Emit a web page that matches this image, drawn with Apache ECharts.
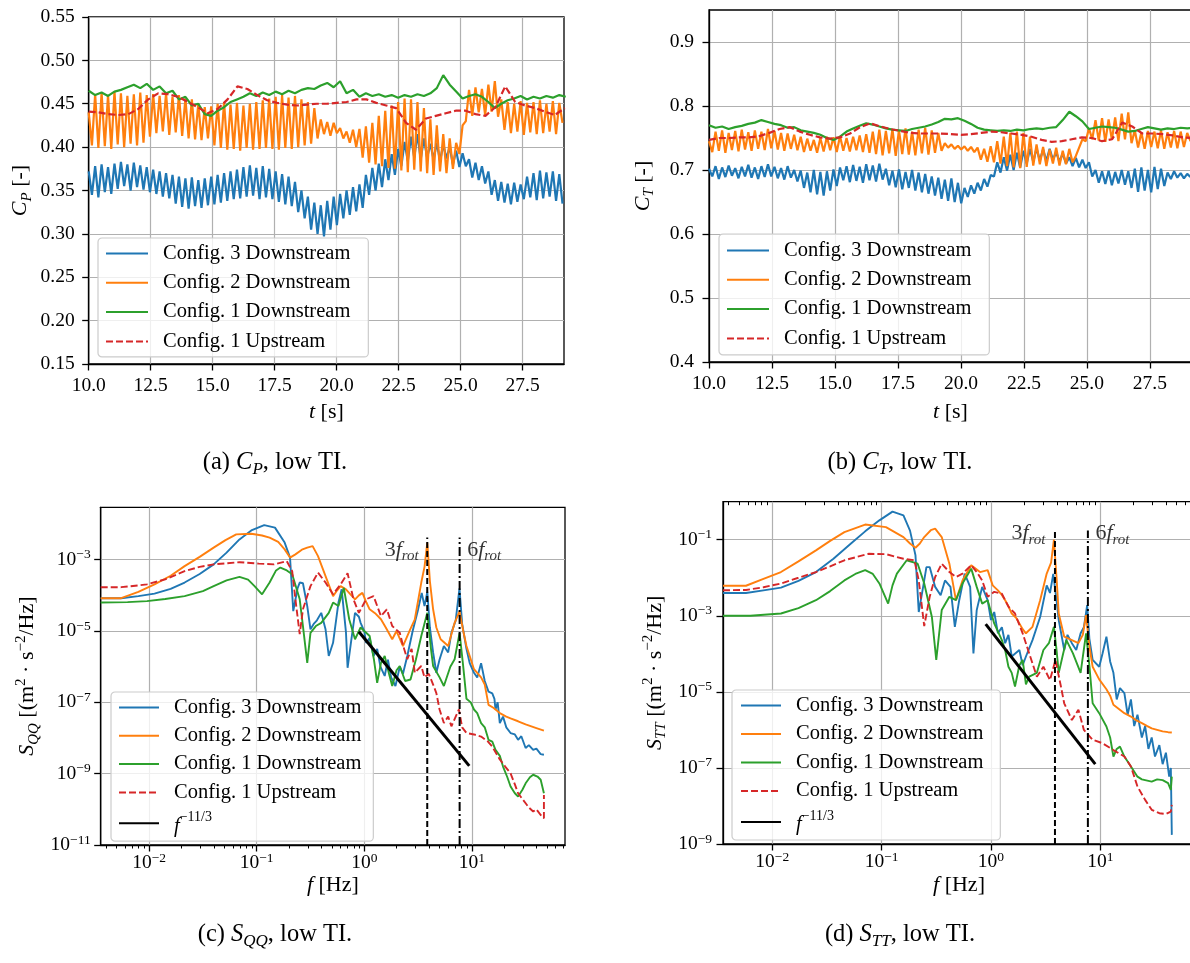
<!DOCTYPE html>
<html><head><meta charset="utf-8">
<script src="https://cdn.jsdelivr.net/npm/echarts@6/dist/echarts.min.js"></script>
<style>html,body{margin:0;padding:0;background:#fff}#chart{width:1190px;height:963px}</style>
</head><body><div id="chart"></div>
<script>
// ---------------- DATA ----------------
// time grids (s)
const T0 = 10.0, DT_FAST = 0.13, DT_MID = 0.26, DT_SLOW = 0.4, T_MAX = 29.17;
const timeTickValues = [10, 12.5, 15, 17.5, 20, 22.5, 25, 27.5];
const cpTickValues = [0.15, 0.20, 0.25, 0.30, 0.35, 0.40, 0.45, 0.50, 0.55];
const ctTickValues = [0.4, 0.5, 0.6, 0.7, 0.8, 0.9];
const seriesNames = ['Config. 3 Downstream', 'Config. 2 Downstream', 'Config. 1 Downstream', 'Config. 1 Upstream'];

// (a) C_P
const cpConfig3 = [0.372,0.345,0.378,0.342,0.380,0.348,0.377,0.346,
0.381,0.352,0.383,0.355,0.380,0.350,0.382,0.354,0.379,0.351,0.377,
0.348,0.374,0.346,0.372,0.343,0.370,0.341,0.368,
0.335,0.366,0.331,0.364,0.329,0.365,0.332,0.362,0.330,0.364,0.333,
0.366,0.334,0.368,0.336,0.370,0.338,0.372,0.340,
0.374,0.341,0.377,0.343,0.379,0.344,0.376,0.340,0.378,0.342,0.375,0.340,
0.372,0.337,0.369,0.334,0.366,0.332,0.360,
0.325,0.350,0.318,0.343,
0.305,0.336,0.300,0.333,0.297,
0.338,0.305,0.343,0.310,0.346,
0.318,0.350,0.322,0.354,0.326,0.357,0.330,
0.368,0.345,0.376,0.350,0.381,0.354,
0.386,0.362,0.392,0.368,0.398,
0.378,0.406,0.384,0.412,0.388,0.415,0.386,0.410,
0.388,0.404,0.386,0.405,0.384,0.403,0.387,0.400,
0.380,0.396,0.377,0.393,0.378,
0.386,0.365,0.382,0.362,0.378,0.358,0.372,
0.345,0.362,0.338,0.360,0.336,0.358,0.334,0.359,0.337,0.357,
0.340,0.366,0.342,0.370,0.339,0.373,0.341,0.371,0.343,0.372,0.338,0.369,0.335];
const cpConfig2 = [0.440,0.402,0.461,0.399,0.463,0.401,0.460,0.398,0.464,0.403,0.462,0.400,0.459,0.404,0.461,0.402,0.463,0.405,0.460,
0.412,0.461,0.416,0.459,0.418,0.462,0.414,0.458,0.417,0.460,0.413,0.456,0.410,0.455,0.409,0.450,0.408,0.446,0.410,
0.447,0.402,0.450,0.399,0.452,0.397,0.449,0.398,0.451,0.396,0.448,0.399,0.450,0.397,0.452,0.398,0.454,0.399,0.456,0.398,
0.458,0.397,0.460,0.399,0.457,0.398,0.459,0.400,0.455,0.402,0.452,0.404,0.445,0.410,
0.432,0.415,0.429,0.413,0.428,0.416,
0.422,0.410,0.418,0.405,0.420,0.400,
0.421,0.388,0.424,0.382,0.428,
0.380,0.436,0.378,0.442,0.376,0.448,0.375,0.452,
0.373,0.456,0.371,0.455,0.374,0.452,0.372,0.445,0.370,
0.432,0.368,0.425,0.372,0.415,0.370,0.410,
0.375,0.405,0.392,0.425,0.430,
0.466,0.436,0.469,0.440,0.467,0.437,0.472,0.441,0.476,0.435,
0.455,0.420,0.452,0.416,0.450,0.418,0.453,0.414,0.451,0.417,0.452,0.415,0.454,0.416,0.450,0.418,0.453,0.415,0.451,0.428];
const cpConfig1 = [0.465,0.460,0.463,0.459,0.464,0.466,0.469,0.472,0.468,0.473,
0.466,0.470,0.462,0.465,0.455,0.458,0.448,0.450,0.438,0.436,
0.442,0.446,0.452,0.455,0.458,0.462,0.459,0.463,0.460,0.464,
0.461,0.465,0.462,0.466,0.468,0.467,0.471,0.474,0.469,0.476,
0.462,0.466,0.458,0.462,0.459,0.461,0.458,0.460,0.457,0.460,
0.458,0.461,0.459,0.462,0.468,0.483,0.472,0.464,0.456,0.459,
0.461,0.458,0.452,0.445,0.450,0.454,0.456,0.459,0.455,0.458,
0.456,0.459,0.457,0.460,0.458];
const cpUpstream = [0.441,0.440,0.438,0.437,0.438,0.444,0.455,0.462,0.461,0.458,
0.452,0.446,0.439,0.444,0.455,0.470,0.467,0.460,0.454,0.451,
0.449,0.448,0.449,0.450,0.450,0.451,0.452,0.455,0.455,0.451,
0.448,0.445,0.428,0.420,0.433,0.436,0.439,0.442,0.442,0.438,
0.436,0.446,0.470,0.452,0.448,0.445,0.441,0.437,0.445];

// (b) C_T
const ctConfig3 = [0.702,0.690,0.706,0.686,0.704,0.689,0.707,0.691,0.703,0.687,0.705,0.690,0.708,0.688,0.704,0.686,0.706,0.689,0.709,0.690,0.705,0.687,0.703,0.685,0.706,0.688,0.700,0.682,
0.699,0.672,0.696,0.665,0.700,0.662,0.697,0.660,0.698,0.668,0.701,0.675,
0.704,0.684,0.706,0.681,0.708,0.683,0.705,0.680,0.709,0.684,0.707,0.682,0.710,0.685,
0.702,0.676,0.699,0.673,0.701,0.670,0.697,0.672,0.700,0.668,0.696,0.665,0.694,0.663,
0.690,0.660,0.688,0.655,0.685,0.652,0.687,0.650,0.680,0.648,
0.672,0.658,0.676,0.663,0.680,0.668,0.686,0.674,0.692,
0.690,0.712,0.696,0.720,0.699,0.724,0.700,0.727,
0.704,0.730,0.710,0.733,0.713,0.734,0.715,0.732,0.714,0.733,0.716,0.728,0.713,0.726,
0.710,0.720,0.706,0.719,0.704,0.716,0.703,
0.712,0.690,0.700,0.680,0.698,0.678,0.699,0.676,0.697,0.679,0.700,0.677,0.698,
0.672,0.702,0.666,0.704,0.668,0.700,0.665,0.705,0.670,0.702,0.675,
0.696,0.686,0.698,0.688,0.695,0.687,0.694,0.689];
const ctConfig2 = [0.745,0.728,0.760,0.730,0.762,0.727,0.758,0.731,0.761,0.729,0.763,0.732,0.759,0.730,0.762,0.733,0.760,0.731,0.764,0.734,0.761,0.732,0.758,0.730,0.757,0.733,0.755,0.731,
0.752,0.728,0.749,0.730,0.747,0.727,0.750,0.729,0.752,0.731,0.751,0.728,0.753,0.730,0.750,0.729,0.752,0.731,0.754,0.728,0.756,0.727,
0.760,0.725,0.763,0.723,0.761,0.726,0.764,0.722,0.762,0.725,0.765,0.724,0.760,0.723,0.763,0.726,0.766,0.724,0.762,0.727,0.758,0.730,
0.742,0.735,0.740,0.733,0.738,0.732,0.737,0.730,0.736,0.728,
0.735,0.716,0.733,0.713,0.737,0.712,0.745,
0.710,0.752,0.706,0.758,0.704,0.760,0.703,0.758,0.705,0.752,
0.707,0.740,0.709,0.736,0.706,0.732,0.710,0.735,0.707,0.730,0.709,0.733,0.712,
0.722,0.735,0.748,0.745,0.765,
0.748,0.778,0.746,0.781,0.744,0.779,0.747,0.782,0.745,0.788,0.748,0.790,
0.742,0.762,0.735,0.759,0.733,0.761,0.736,0.760,0.734,0.762,0.733,0.759,0.735,0.761,0.734,0.760,0.736,0.758,0.745];
const ctConfig1 = [0.770,0.766,0.768,0.764,0.767,0.769,0.772,0.774,0.778,0.775,
0.772,0.770,0.766,0.767,0.762,0.760,0.758,0.755,0.750,0.747,
0.752,0.760,0.765,0.769,0.773,0.771,0.768,0.765,0.763,0.762,
0.761,0.764,0.766,0.768,0.771,0.775,0.780,0.779,0.781,0.777,
0.772,0.766,0.763,0.762,0.761,0.762,0.761,0.763,0.762,0.764,
0.765,0.764,0.766,0.767,0.778,0.791,0.784,0.776,0.764,0.766,
0.768,0.767,0.766,0.763,0.760,0.761,0.764,0.767,0.765,0.763,
0.765,0.764,0.766,0.765,0.766];
const ctUpstream = [0.747,0.750,0.750,0.751,0.751,0.753,0.758,0.764,0.767,0.760,
0.755,0.751,0.749,0.751,0.757,0.767,0.773,0.768,0.764,0.761,
0.758,0.757,0.757,0.757,0.756,0.755,0.756,0.758,0.760,0.759,
0.757,0.755,0.752,0.747,0.744,0.745,0.748,0.751,0.750,0.745,
0.748,0.774,0.768,0.757,0.757,0.756,0.754,0.751,0.750];

// spectra: pairs [log10 f (Hz), log10 S]
const F_LOG_MIN = -2.45, F_LOG_MAX = 1.866;
const freqMajorLog = [-2, -1, 0, 1];
const SQQ_LOG_MIN = -11, SQQ_LOG_MAX = -1.53, sqqTickLog = [-11, -9, -7, -5, -3];
const STT_LOG_MIN = -9, STT_LOG_MAX = 0, sttTickLog = [-9, -7, -5, -3, -1];
const F_ROT3 = 3.85, F_ROT6 = 7.7; // Hz
const rotTopC = -2.38, rotLabelC = -2.72, rotTopD = -0.76, rotLabelD = -0.84;

const sqqC3 = [[-2.45,-4.08],[-2.26,-4.08],[-2.1,-4.02],[-1.95,-3.95],[-1.8,-3.82],[-1.67,-3.64],[-1.53,-3.4],[-1.40,-3.13],[-1.28,-2.8],[-1.16,-2.43],[-1.05,-2.18],[-0.93,-2.03],[-0.83,-2.10],[-0.74,-2.52],[-0.69,-2.94],[-0.66,-4.44],[-0.62,-3.8],[-0.60,-3.64],[-0.57,-3.66],[-0.53,-4.3],[-0.50,-4.95],[-0.47,-4.8],[-0.44,-4.7],[-0.40,-4.49],[-0.36,-4.95],[-0.33,-5.7],[-0.29,-5.33],[-0.24,-4.2],[-0.21,-3.83],[-0.17,-5.04],[-0.155,-6.03],[-0.12,-5.24],[-0.086,-4.49],[-0.05,-4.6],[-0.034,-4.77],[0.0,-5.0],[0.017,-5.33],[0.05,-5.2],[0.086,-5.7],[0.12,-5.5],[0.15,-6.0],[0.19,-6.26],[0.22,-5.8],[0.25,-6.3],[0.29,-6.54],[0.33,-6.0],[0.36,-6.2],[0.40,-5.7],[0.45,-5.0],[0.50,-4.4],[0.534,-3.93],[0.56,-4.3],[0.586,-3.9],[0.61,-4.9],[0.64,-5.6],[0.67,-6.17],[0.70,-5.8],[0.74,-5.42],[0.78,-5.6],[0.81,-5.05],[0.85,-4.7],[0.885,-3.8],[0.91,-4.8],[0.95,-5.5],[0.98,-5.9],[1.02,-6.17],[1.05,-6.3],[1.086,-5.9],[1.12,-6.4],[1.155,-6.7],[1.19,-6.75],[1.21,-6.9],[1.22,-7.2],[1.24,-7.0],[1.26,-7.58],[1.29,-7.4],[1.32,-7.7],[1.36,-7.86],[1.40,-7.9],[1.43,-8.05],[1.46,-7.95],[1.50,-8.28],[1.53,-8.2],[1.57,-8.33],[1.60,-8.3],[1.64,-8.45],[1.67,-8.47]];
const sqqC2 = [[-2.45,-4.08],[-2.26,-4.08],[-2.1,-3.9],[-1.95,-3.69],[-1.8,-3.45],[-1.67,-3.18],[-1.53,-2.92],[-1.40,-2.66],[-1.29,-2.45],[-1.19,-2.29],[-1.05,-2.27],[-0.95,-2.32],[-0.88,-2.38],[-0.80,-2.5],[-0.74,-2.71],[-0.69,-2.94],[-0.64,-2.85],[-0.58,-2.72],[-0.53,-2.66],[-0.48,-2.62],[-0.43,-2.9],[-0.36,-3.46],[-0.29,-4.02],[-0.25,-3.85],[-0.22,-3.74],[-0.17,-3.83],[-0.12,-4.0],[-0.086,-4.11],[-0.05,-4.0],[-0.017,-3.93],[0.02,-4.2],[0.05,-4.39],[0.1,-4.5],[0.155,-4.67],[0.2,-4.9],[0.26,-5.23],[0.3,-5.0],[0.36,-5.42],[0.42,-5.0],[0.47,-4.67],[0.53,-3.64],[0.56,-3.2],[0.586,-2.52],[0.61,-3.6],[0.64,-4.39],[0.67,-4.9],[0.71,-5.23],[0.78,-5.42],[0.84,-4.77],[0.886,-4.45],[0.92,-5.0],[0.95,-5.42],[1.02,-6.07],[1.086,-6.3],[1.12,-6.5],[1.155,-7.07],[1.2,-7.15],[1.26,-7.3],[1.32,-7.4],[1.36,-7.45],[1.43,-7.53],[1.5,-7.62],[1.6,-7.72],[1.67,-7.79]];
const sqqC1 = [[-2.45,-4.2],[-2.2,-4.19],[-2.02,-4.16],[-1.85,-4.1],[-1.67,-4.02],[-1.5,-3.88],[-1.40,-3.74],[-1.28,-3.58],[-1.16,-3.48],[-1.08,-3.56],[-1.02,-3.74],[-0.95,-3.97],[-0.88,-3.64],[-0.82,-3.3],[-0.78,-3.22],[-0.72,-3.3],[-0.67,-3.41],[-0.6,-4.11],[-0.57,-4.86],[-0.53,-5.89],[-0.5,-5.05],[-0.45,-4.86],[-0.4,-4.77],[-0.33,-4.49],[-0.29,-4.2],[-0.24,-4.3],[-0.19,-3.79],[-0.14,-4.67],[-0.086,-5.23],[-0.034,-4.9],[0.0,-5.0],[0.05,-5.14],[0.09,-5.8],[0.12,-6.45],[0.155,-5.9],[0.19,-5.7],[0.23,-6.2],[0.26,-6.54],[0.3,-6.1],[0.33,-5.98],[0.38,-6.4],[0.43,-6.36],[0.48,-5.8],[0.53,-5.14],[0.586,-4.49],[0.62,-5.5],[0.64,-5.98],[0.7,-6.3],[0.74,-6.54],[0.8,-6.0],[0.84,-5.79],[0.886,-5.05],[0.92,-6.0],[0.95,-6.9],[0.99,-7.0],[1.02,-7.2],[1.05,-7.3],[1.086,-7.58],[1.12,-7.7],[1.155,-8.05],[1.19,-8.1],[1.22,-8.33],[1.26,-8.5],[1.29,-8.8],[1.33,-9.1],[1.36,-9.36],[1.40,-9.55],[1.43,-9.64],[1.47,-9.45],[1.50,-9.27],[1.54,-9.1],[1.57,-9.03],[1.61,-9.08],[1.64,-9.17],[1.67,-9.55]];
const sqqUp = [[-2.45,-3.77],[-2.26,-3.77],[-2.1,-3.72],[-2.02,-3.69],[-1.85,-3.55],[-1.67,-3.32],[-1.53,-3.2],[-1.40,-3.13],[-1.16,-3.07],[-0.98,-3.11],[-0.84,-3.13],[-0.72,-3.04],[-0.67,-3.32],[-0.64,-4.11],[-0.60,-5.09],[-0.57,-4.39],[-0.50,-3.74],[-0.43,-3.36],[-0.36,-3.64],[-0.29,-3.97],[-0.22,-3.69],[-0.155,-3.38],[-0.10,-4.11],[-0.05,-4.49],[0.017,-4.11],[0.086,-4.02],[0.155,-4.58],[0.21,-4.39],[0.26,-4.86],[0.33,-5.05],[0.36,-5.4],[0.40,-5.79],[0.44,-5.5],[0.47,-6.17],[0.53,-5.98],[0.56,-6.3],[0.6,-6.2],[0.64,-6.5],[0.67,-6.74],[0.70,-7.2],[0.74,-7.58],[0.78,-7.4],[0.81,-7.67],[0.85,-7.4],[0.88,-7.2],[0.91,-7.7],[0.95,-7.86],[1.02,-7.9],[1.086,-7.96],[1.15,-8.1],[1.19,-8.24],[1.26,-8.6],[1.31,-8.8],[1.36,-8.99],[1.40,-9.3],[1.43,-9.55],[1.5,-9.83],[1.53,-9.95],[1.57,-10.06],[1.6,-10.0],[1.64,-10.16],[1.67,-10.25],[1.67,-9.6]];
const sqqKolmo = [[-0.05,-5.02],[0.976,-8.78]];

const sttC3 = [[-2.45,-2.40],[-2.24,-2.40],[-2.08,-2.33],[-1.92,-2.26],[-1.76,-2.08],[-1.6,-1.85],[-1.44,-1.5],[-1.28,-1.10],[-1.15,-0.78],[-1.02,-0.49],[-0.9,-0.26],[-0.8,-0.36],[-0.74,-0.76],[-0.69,-1.41],[-0.66,-2.9],[-0.62,-2.24],[-0.59,-1.72],[-0.56,-1.72],[-0.51,-2.24],[-0.46,-2.46],[-0.42,-2.07],[-0.37,-2.24],[-0.33,-3.29],[-0.29,-2.59],[-0.24,-1.89],[-0.19,-2.24],[-0.16,-3.99],[-0.13,-2.85],[-0.08,-2.24],[-0.03,-2.59],[0.0,-3.11],[0.03,-2.9],[0.064,-3.46],[0.1,-3.3],[0.13,-3.72],[0.16,-3.5],[0.19,-4.07],[0.26,-3.9],[0.29,-4.3],[0.32,-4.07],[0.38,-3.64],[0.45,-3.03],[0.51,-2.2],[0.54,-2.4],[0.57,-1.9],[0.6,-2.6],[0.62,-3.11],[0.67,-3.9],[0.7,-3.5],[0.74,-3.72],[0.78,-3.9],[0.82,-3.46],[0.85,-3.3],[0.88,-2.72],[0.9,-3.6],[0.93,-4.16],[0.99,-4.34],[1.02,-4.0],[1.056,-3.55],[1.09,-4.2],[1.12,-4.5],[1.15,-5.2],[1.18,-4.9],[1.22,-5.03],[1.25,-5.6],[1.28,-5.2],[1.31,-5.9],[1.34,-5.6],[1.38,-6.2],[1.41,-5.9],[1.44,-6.5],[1.47,-6.2],[1.5,-6.7],[1.54,-6.4],[1.57,-6.9],[1.6,-6.6],[1.63,-7.23],[1.645,-7.0],[1.654,-8.76]];
const sttC2 = [[-2.45,-2.21],[-2.24,-2.21],[-2.08,-2.03],[-1.92,-1.85],[-1.76,-1.57],[-1.6,-1.28],[-1.47,-1.03],[-1.34,-0.8],[-1.15,-0.6],[-0.96,-0.67],[-0.8,-0.93],[-0.74,-1.1],[-0.69,-1.21],[-0.65,-1.1],[-0.61,-0.93],[-0.55,-0.75],[-0.51,-0.71],[-0.45,-0.93],[-0.38,-1.63],[-0.32,-2.59],[-0.26,-2.07],[-0.18,-1.67],[-0.1,-1.85],[-0.03,-1.8],[0.016,-2.2],[0.064,-2.33],[0.1,-2.45],[0.13,-2.59],[0.16,-2.75],[0.19,-2.94],[0.23,-3.05],[0.26,-3.2],[0.29,-3.35],[0.32,-3.46],[0.38,-3.29],[0.45,-2.59],[0.51,-1.89],[0.55,-1.6],[0.576,-1.0],[0.6,-2.0],[0.62,-2.94],[0.67,-3.55],[0.74,-3.64],[0.8,-3.72],[0.84,-3.5],[0.87,-2.98],[0.9,-3.8],[0.93,-4.34],[0.99,-4.67],[1.056,-4.93],[1.09,-5.1],[1.12,-5.34],[1.17,-5.45],[1.22,-5.56],[1.28,-5.65],[1.33,-5.75],[1.38,-5.82],[1.43,-5.9],[1.47,-5.96],[1.52,-6.0],[1.57,-6.04],[1.62,-6.06],[1.654,-6.07]];
const sttC1 = [[-2.45,-3.0],[-2.2,-3.0],[-1.92,-2.94],[-1.76,-2.8],[-1.6,-2.59],[-1.47,-2.35],[-1.34,-2.07],[-1.24,-1.9],[-1.15,-1.8],[-1.08,-1.9],[-1.02,-2.15],[-0.94,-2.68],[-0.9,-2.2],[-0.86,-1.89],[-0.77,-1.54],[-0.67,-1.63],[-0.61,-2.15],[-0.54,-3.03],[-0.5,-4.16],[-0.45,-2.85],[-0.38,-2.5],[-0.32,-2.59],[-0.26,-2.15],[-0.18,-1.76],[-0.13,-2.24],[-0.08,-2.68],[-0.03,-2.59],[0.03,-3.2],[0.1,-3.64],[0.13,-3.9],[0.16,-4.34],[0.19,-4.5],[0.22,-4.86],[0.26,-4.3],[0.29,-4.16],[0.32,-4.8],[0.35,-4.6],[0.42,-4.5],[0.48,-3.9],[0.53,-3.72],[0.576,-3.29],[0.6,-3.9],[0.62,-4.5],[0.66,-4.0],[0.69,-3.64],[0.75,-3.99],[0.82,-4.5],[0.87,-3.46],[0.9,-4.3],[0.93,-5.3],[0.99,-5.56],[1.056,-5.91],[1.09,-6.2],[1.12,-6.7],[1.15,-6.5],[1.18,-6.44],[1.22,-6.7],[1.28,-6.96],[1.34,-7.23],[1.38,-7.3],[1.41,-7.32],[1.47,-7.36],[1.52,-7.3],[1.57,-7.32],[1.62,-7.4],[1.645,-7.58],[1.654,-7.23]];
const sttUp = [[-2.45,-2.33],[-2.24,-2.32],[-2.08,-2.25],[-1.92,-2.15],[-1.76,-2.0],[-1.6,-1.85],[-1.47,-1.7],[-1.34,-1.54],[-1.12,-1.37],[-0.96,-1.38],[-0.8,-1.5],[-0.7,-1.54],[-0.66,-2.07],[-0.61,-3.27],[-0.56,-2.5],[-0.51,-1.98],[-0.45,-1.63],[-0.38,-1.85],[-0.32,-1.98],[-0.26,-1.89],[-0.18,-1.67],[-0.13,-1.85],[-0.08,-2.07],[-0.03,-2.5],[0.03,-2.37],[0.1,-2.42],[0.16,-2.76],[0.22,-2.94],[0.29,-3.46],[0.35,-3.99],[0.42,-4.6],[0.48,-4.34],[0.54,-4.69],[0.59,-4.16],[0.64,-4.86],[0.67,-5.3],[0.74,-5.74],[0.8,-5.47],[0.85,-6.0],[0.93,-6.26],[1.02,-6.35],[1.12,-6.53],[1.22,-6.7],[1.28,-6.96],[1.34,-7.49],[1.41,-7.84],[1.47,-8.1],[1.54,-8.19],[1.6,-8.21],[1.645,-8.15],[1.654,-7.97]];
const sttKolmo = [[-0.048,-3.22],[0.954,-6.90]];

// ---------------- CHART ----------------
const FONT = '"Liberation Serif","Times New Roman",serif';
const BLUE = '#1f77b4', ORANGE = '#ff7f0e', GREEN = '#2ca02c', RED = '#d62728';
const GRIDC = '#b0b0b0';
const colors = [BLUE, ORANGE, GREEN, RED];

function mathRich(fs, sfs) {
  const lh = fs + 6;
  return {
    rm: {fontFamily: FONT, fontSize: fs, lineHeight: lh, color: '#000', fill: '#000'},
    it: {fontFamily: FONT, fontSize: fs, lineHeight: lh, fontStyle: 'italic', color: '#000', fill: '#000'},
    sub: {fontFamily: FONT, fontSize: sfs, lineHeight: sfs, fontStyle: 'italic', verticalAlign: 'bottom', color: '#000', fill: '#000'},
    sup: {fontFamily: FONT, fontSize: sfs, lineHeight: sfs, verticalAlign: 'top', color: '#000', fill: '#000'}
  };
}
const expRich = {
  b: {fontFamily: FONT, fontSize: 19.5, lineHeight: 24, color: '#000'},
  e: {fontFamily: FONT, fontSize: 13.5, lineHeight: 13, verticalAlign: 'top', color: '#000'}
};
function expLabel(v) {
  const r = Math.round(v);
  if (Math.abs(v - r) > 1e-6) return '';
  return '{b|10}{e|' + (r < 0 ? '\u2212' + Math.abs(r) : String(r)) + '}';
}
const axisLineStyle = {show: true, onZero: false, lineStyle: {color: '#000', width: 1.3}};
function tick(values) { return {show: true, inside: false, length: 6.5, lineStyle: {color: '#000', width: 1.3}, customValues: values}; }
const splitL = {show: true, lineStyle: {color: GRIDC, width: 1.2}};
function lbl(values, margin, fmt, rich) {
  const o = {show: true, color: '#000', fontFamily: FONT, fontSize: 19.5, margin: margin, customValues: values,
    formatter: fmt, showMinLabel: true, showMaxLabel: true};
  if (rich) o.rich = rich;
  return o;
}

const minorFreqLog = [];
for (let n = -3; n <= 1; n++) for (let k = 2; k <= 9; k++) {
  const v = Math.log10(k * Math.pow(10, n));
  if (v > F_LOG_MIN && v < F_LOG_MAX) minorFreqLog.push(v);
}

const grids = [
  {left: 88.7, top: 17, width: 475.3, height: 347},
  {left: 709, top: 10, width: 483, height: 352},
  {left: 100.7, top: 507.3, width: 464.3, height: 337.7},
  {left: 723, top: 501.7, width: 472, height: 342.3}
].map(g => Object.assign(g, {show: true, borderColor: '#000', borderWidth: 1.3, backgroundColor: 'rgba(0,0,0,0)', containLabel: false, outerBoundsMode: 'none'}));

const nameRich = mathRich(22, 15);
const xAxes = [
  {gridIndex: 0, type: 'value', position: 'bottom', min: T0, max: T_MAX, interval: 2.5,
   axisLine: axisLineStyle, axisTick: tick(timeTickValues), splitLine: splitL,
   axisLabel: lbl(timeTickValues, 12, v => v.toFixed(1)),
   name: '{it|t}{rm| [s]}', nameLocation: 'middle', nameGap: 34, nameTextStyle: {rich: nameRich}},
  {gridIndex: 1, type: 'value', position: 'bottom', min: T0, max: T_MAX, interval: 2.5,
   axisLine: axisLineStyle, axisTick: tick(timeTickValues), splitLine: splitL,
   axisLabel: lbl(timeTickValues, 12, v => v.toFixed(1)),
   name: '{it|t}{rm| [s]}', nameLocation: 'middle', nameGap: 36, nameTextStyle: {rich: nameRich}},
  {gridIndex: 2, type: 'value', position: 'bottom', min: F_LOG_MIN, max: F_LOG_MAX,
   axisLine: axisLineStyle, axisTick: tick(freqMajorLog), splitLine: splitL,
   axisLabel: lbl(freqMajorLog, 6, expLabel, expRich),
   name: '{it|f}{rm| [Hz]}', nameLocation: 'middle', nameGap: 26, nameTextStyle: {rich: nameRich}},
  {gridIndex: 3, type: 'value', position: 'bottom', min: F_LOG_MIN, max: F_LOG_MAX,
   axisLine: axisLineStyle, axisTick: tick(freqMajorLog), splitLine: splitL,
   axisLabel: lbl(freqMajorLog, 6, expLabel, expRich),
   name: '{it|f}{rm| [Hz]}', nameLocation: 'middle', nameGap: 27, nameTextStyle: {rich: nameRich}},
  {gridIndex: 2, type: 'value', position: 'bottom', min: F_LOG_MIN, max: F_LOG_MAX,
   axisLine: {show: false}, splitLine: {show: false}, axisLabel: {show: false},
   axisTick: {show: true, inside: false, length: 3.5, lineStyle: {color: '#000', width: 1}, customValues: minorFreqLog}},
  {gridIndex: 3, type: 'value', position: 'bottom', min: F_LOG_MIN, max: F_LOG_MAX,
   axisLine: {show: false}, splitLine: {show: false}, axisLabel: {show: false},
   axisTick: {show: true, inside: false, length: 3.5, lineStyle: {color: '#000', width: 1}, customValues: minorFreqLog}}
];
const yAxes = [
  {gridIndex: 0, type: 'value', position: 'left', min: 0.15, max: 0.55, interval: 0.05,
   axisLine: axisLineStyle, axisTick: tick(cpTickValues), splitLine: splitL,
   axisLabel: lbl(cpTickValues, 14, v => v.toFixed(2)),
   name: '{it|C}{sub|P}{rm| [-]}', nameLocation: 'middle', nameGap: 54, nameTextStyle: {rich: nameRich}},
  {gridIndex: 1, type: 'value', position: 'left', min: 0.4, max: 0.95, interval: 0.1,
   axisLine: axisLineStyle, axisTick: tick(ctTickValues), splitLine: splitL,
   axisLabel: lbl(ctTickValues, 15, v => v.toFixed(1)),
   name: '{it|C}{sub|T}{rm| [-]}', nameLocation: 'middle', nameGap: 52, nameTextStyle: {rich: nameRich}},
  {gridIndex: 2, type: 'value', position: 'left', min: SQQ_LOG_MIN, max: SQQ_LOG_MAX, interval: 2,
   axisLine: axisLineStyle, axisTick: tick(sqqTickLog), splitLine: splitL,
   axisLabel: lbl(sqqTickLog, 10, expLabel, expRich),
   name: '{it|S}{sub|QQ}{rm| [(m}{sup|2}{rm| \u00b7 s}{sup|\u22122}{rm|/Hz]}', nameLocation: 'middle', nameGap: 59, nameTextStyle: {rich: nameRich}},
  {gridIndex: 3, type: 'value', position: 'left', min: STT_LOG_MIN, max: STT_LOG_MAX, interval: 2,
   axisLine: axisLineStyle, axisTick: tick(sttTickLog), splitLine: splitL,
   axisLabel: lbl(sttTickLog, 11, expLabel, expRich),
   name: '{it|S}{sub|TT}{rm| [(m}{sup|2}{rm| \u00b7 s}{sup|\u22122}{rm|/Hz]}', nameLocation: 'middle', nameGap: 54, nameTextStyle: {rich: nameRich}}
];

function timeData(vals, dt) { return vals.map((v, i) => [+(T0 + i * dt).toFixed(4), v]); }
function lineSeries(name, idx, data, color, width, dashed) {
  return {name: name, type: 'line', xAxisIndex: idx, yAxisIndex: idx, data: data, symbol: 'none', showSymbol: false,
    smooth: false, clip: true, animation: false, silent: true,
    lineStyle: {color: color, width: width, type: dashed ? [7, 3] : 'solid'}, itemStyle: {color: color}};
}
const series = [];
[[cpConfig3, DT_FAST], [cpConfig2, DT_FAST], [cpConfig1, DT_MID], [cpUpstream, DT_SLOW]].forEach((s, k) =>
  series.push(lineSeries(seriesNames[k], 0, timeData(s[0], s[1]), colors[k], 2.2, k === 3)));
[[ctConfig3, DT_FAST], [ctConfig2, DT_FAST], [ctConfig1, DT_MID], [ctUpstream, DT_SLOW]].forEach((s, k) =>
  series.push(lineSeries(seriesNames[k], 1, timeData(s[0], s[1]), colors[k], 2.2, k === 3)));
[sqqC3, sqqC2, sqqC1, sqqUp].forEach((s, k) => series.push(lineSeries(seriesNames[k], 2, s, colors[k], 1.9, k === 3)));
[sttC3, sttC2, sttC1, sttUp].forEach((s, k) => series.push(lineSeries(seriesNames[k], 3, s, colors[k], 1.9, k === 3)));
series.push(lineSeries('kolmo', 2, sqqKolmo, '#000', 3, false));
series.push(lineSeries('kolmo', 3, sttKolmo, '#000', 3, false));

function rotLine(idx, f, yMin, yTop, dash) {
  const s = lineSeries('rot', idx, [[Math.log10(f), yMin], [Math.log10(f), yTop]], '#000', 2, false);
  s.lineStyle.type = dash;
  return s;
}
series.push(rotLine(2, F_ROT3, SQQ_LOG_MIN, rotTopC, [6, 3]));
series.push(rotLine(2, F_ROT6, SQQ_LOG_MIN, rotTopC, [9, 3, 2, 3]));
series.push(rotLine(3, F_ROT3, STT_LOG_MIN, rotTopD, [6, 3]));
series.push(rotLine(3, F_ROT6, STT_LOG_MIN, rotTopD, [9, 3, 2, 3]));
function rotLabel(idx, f, y, text, pos, dist) {
  return {type: 'scatter', xAxisIndex: idx, yAxisIndex: idx, data: [[Math.log10(f), y]], symbolSize: 1,
    itemStyle: {color: 'rgba(0,0,0,0)'}, silent: true, animation: false, z: 5,
    label: {show: true, position: pos, distance: dist, color: '#000', formatter: text, rich: mathRich(22, 15)}};
}
series.push(rotLabel(2, F_ROT3, rotLabelC, '{rm|3}{it|f}{sub|rot}', 'left', 8));
series.push(rotLabel(2, F_ROT6, rotLabelC, '{rm|6}{it|f}{sub|rot}', 'right', 7));
series.push(rotLabel(3, F_ROT3, rotLabelD, '{rm|3}{it|f}{sub|rot}', 'left', 9));
series.push(rotLabel(3, F_ROT6, rotLabelD, '{rm|6}{it|f}{sub|rot}', 'right', 7));

function legend(names, left, top, padding, gap, iw) {
  return {show: true, orient: 'vertical', left: left, top: top, padding: padding, itemGap: gap,
    itemWidth: iw, itemHeight: 14, selectedMode: false, data: names,
    itemStyle: {color: 'rgba(0,0,0,0)', borderColor: 'rgba(0,0,0,0)', borderWidth: 0, opacity: 0},
    backgroundColor: 'rgba(255,255,255,0.8)', borderColor: '#cccccc', borderWidth: 1.2, borderRadius: 4,
    textStyle: {fontFamily: FONT, fontSize: 20.5, lineHeight: 20, color: '#000', padding: [0, 0, 0, 10],
      rich: {k: {fontFamily: FONT, fontSize: 20.5, fontStyle: 'italic', lineHeight: 26, verticalAlign: 'bottom', color: '#000'},
             ks: {fontFamily: FONT, fontSize: 14, lineHeight: 14, verticalAlign: 'top', color: '#000'}}},
    formatter: n => n === 'kolmo' ? '{k|f}{ks|\u221211/3}' : n};
}
const namesK = seriesNames.concat(['kolmo']);
const legends = [
  legend(seriesNames, 98, 238, [5, 18, 5, 7], 8.3, 42),
  legend(seriesNames, 719, 234, [6, 18, 6, 7], 8.3, 42),
  legend(namesK, 111, 692, [5, 12, 5, 7], 7.3, 40),
  legend(namesK, 732, 690, [5, 17, 5, 8], 7.5, 40)
];

const capRich = mathRich(24.5, 17);
function caption(x, y, text) {
  return {type: 'text', x: x, y: y, silent: true,
    style: {text: text, rich: capRich, align: 'center', verticalAlign: 'middle', fill: '#000', fontFamily: FONT, fontSize: 24.5}};
}
const graphics = [
  caption(275, 463, '{rm|(a) }{it|C}{sub|P}{rm|, low TI.}'),
  caption(900, 463, '{rm|(b) }{it|C}{sub|T}{rm|, low TI.}'),
  caption(275, 935, '{rm|(c) }{it|S}{sub|QQ}{rm|, low TI.}'),
  caption(900, 935, '{rm|(d) }{it|S}{sub|TT}{rm|, low TI.}')
];

const chart = echarts.init(document.getElementById('chart'), null, {renderer: 'canvas'});
chart.setOption({
  animation: false,
  backgroundColor: '#ffffff',
  textStyle: {fontFamily: FONT},
  grid: grids,
  xAxis: xAxes,
  yAxis: yAxes,
  legend: legends,
  series: series,
  graphic: graphics
});
</script></body></html>
